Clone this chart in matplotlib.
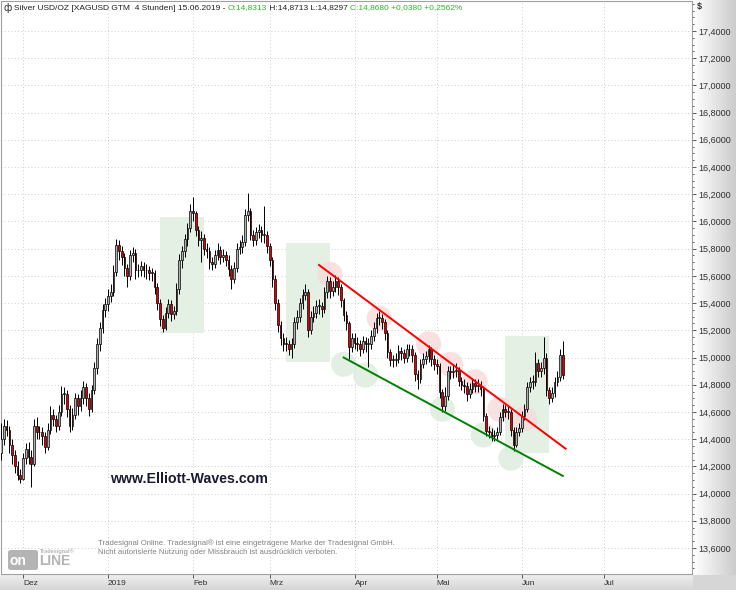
import numpy as np
import pandas as pd
import matplotlib
matplotlib.use('Agg')
import matplotlib.pyplot as plt
import matplotlib.dates as mdates
from matplotlib.patches import Ellipse, Rectangle, FancyBboxPatch

plt.rcParams['font.family'] = ['Liberation Sans', 'DejaVu Sans']

# daily candles (Silver USD/OZ)
start = '2018-11-23'
opens = [
    14.30, 14.40, 14.50, 14.47, 14.36, 14.28, 14.20, 14.14, 14.11, 14.26,
    14.33, 14.27, 14.22, 14.50, 14.45, 14.45, 14.42, 14.34, 14.47, 14.58,
    14.55, 14.50, 14.60, 14.73, 14.73, 14.62, 14.50, 14.58, 14.70, 14.64,
    14.70, 14.78, 14.70, 14.62, 14.76, 14.92, 15.10, 15.22, 15.35, 15.39,
    15.45, 15.48, 15.63, 15.83, 15.78, 15.74, 15.66, 15.60, 15.75, 15.77,
    15.64, 15.64, 15.67, 15.64, 15.64, 15.62, 15.62, 15.52, 15.40, 15.28,
    15.22, 15.33, 15.39, 15.32, 15.34, 15.50, 15.72, 15.78, 15.87, 15.95,
    16.08, 16.06, 15.94, 15.86, 15.88, 15.80, 15.78, 15.70, 15.69, 15.75,
    15.79, 15.74, 15.75, 15.72, 15.65, 15.58, 15.66, 15.80, 15.81, 15.85,
    16.05, 16.08, 15.90, 15.86, 15.92, 15.94, 15.90, 15.90, 15.82, 15.72,
    15.58, 15.40, 15.24, 15.14, 15.10, 15.10, 15.06, 15.10, 15.26, 15.30,
    15.40, 15.46, 15.48, 15.20, 15.30, 15.33, 15.38, 15.38, 15.36, 15.48,
    15.56, 15.49, 15.52, 15.56, 15.52, 15.42, 15.31, 15.25, 15.08, 15.14,
    15.11, 15.10, 15.06, 15.12, 15.10, 15.10, 15.16, 15.22, 15.29, 15.29,
    15.26, 15.18, 15.04, 14.98, 14.98, 14.99, 15.05, 15.03, 15.00, 15.06,
    15.06, 15.02, 14.88, 14.84, 14.95, 14.99, 15.01, 15.06, 14.99, 14.95,
    14.94, 14.75, 14.64, 14.72, 14.90, 14.89, 14.90, 14.91, 14.83, 14.80,
    14.79, 14.73, 14.77, 14.81, 14.79, 14.80, 14.77, 14.57, 14.46, 14.45,
    14.42, 14.43, 14.45, 14.56, 14.62, 14.60, 14.60, 14.47, 14.36, 14.45,
    14.48, 14.57, 14.62, 14.78, 14.82, 14.82, 14.96, 14.90, 14.92, 15.00,
    14.76, 14.70, 14.74, 14.82, 14.86, 15.02]
highs = [
    14.52, 14.55, 14.54, 14.50, 14.40, 14.32, 14.24, 14.18, 14.30, 14.37,
    14.38, 14.32, 14.55, 14.56, 14.50, 14.49, 14.45, 14.52, 14.64, 14.62,
    14.58, 14.65, 14.79, 14.78, 14.76, 14.65, 14.63, 14.74, 14.73, 14.76,
    14.83, 14.81, 14.74, 14.80, 14.97, 15.14, 15.26, 15.39, 15.44, 15.50,
    15.54, 15.68, 15.87, 15.86, 15.82, 15.77, 15.69, 15.79, 15.81, 15.80,
    15.69, 15.71, 15.70, 15.69, 15.67, 15.66, 15.64, 15.55, 15.43, 15.31,
    15.37, 15.43, 15.42, 15.38, 15.55, 15.76, 15.82, 15.91, 15.99, 16.13,
    16.18, 16.08, 15.97, 15.93, 15.91, 15.84, 15.81, 15.74, 15.79, 15.84,
    15.82, 15.80, 15.78, 15.75, 15.68, 15.70, 15.84, 15.86, 15.90, 16.09,
    16.21, 16.10, 15.94, 15.96, 15.98, 15.97, 16.11, 15.93, 15.84, 15.74,
    15.61, 15.43, 15.27, 15.18, 15.15, 15.13, 15.14, 15.30, 15.35, 15.44,
    15.50, 15.54, 15.50, 15.34, 15.38, 15.42, 15.43, 15.41, 15.52, 15.60,
    15.59, 15.56, 15.61, 15.59, 15.54, 15.44, 15.34, 15.27, 15.18, 15.18,
    15.15, 15.13, 15.16, 15.15, 15.14, 15.20, 15.26, 15.33, 15.34, 15.32,
    15.28, 15.20, 15.06, 15.02, 15.03, 15.09, 15.08, 15.06, 15.10, 15.10,
    15.09, 15.04, 14.91, 14.99, 15.03, 15.05, 15.09, 15.08, 15.02, 14.99,
    14.96, 14.77, 14.78, 14.94, 14.94, 14.95, 14.96, 14.93, 14.86, 14.84,
    14.82, 14.81, 14.85, 14.84, 14.84, 14.83, 14.79, 14.59, 14.50, 14.48,
    14.47, 14.49, 14.60, 14.66, 14.65, 14.64, 14.62, 14.49, 14.49, 14.52,
    14.61, 14.66, 14.82, 14.86, 14.87, 15.04, 14.99, 14.97, 15.15, 15.03,
    14.78, 14.78, 14.86, 14.90, 15.06, 15.12]
lows = [
    14.25, 14.36, 14.42, 14.30, 14.22, 14.15, 14.10, 14.08, 14.10, 14.22,
    14.22, 14.05, 14.20, 14.40, 14.40, 14.36, 14.30, 14.32, 14.44, 14.50,
    14.45, 14.47, 14.57, 14.66, 14.56, 14.45, 14.47, 14.55, 14.58, 14.61,
    14.66, 14.64, 14.57, 14.60, 14.73, 14.88, 15.05, 15.18, 15.30, 15.34,
    15.41, 15.45, 15.60, 15.72, 15.68, 15.60, 15.52, 15.57, 15.70, 15.58,
    15.59, 15.60, 15.59, 15.58, 15.57, 15.56, 15.47, 15.35, 15.23, 15.19,
    15.20, 15.29, 15.27, 15.28, 15.31, 15.47, 15.66, 15.74, 15.82, 15.92,
    16.00, 15.89, 15.82, 15.70, 15.75, 15.73, 15.65, 15.64, 15.66, 15.72,
    15.69, 15.70, 15.67, 15.60, 15.50, 15.55, 15.63, 15.76, 15.77, 15.82,
    16.00, 15.86, 15.82, 15.83, 15.88, 15.85, 15.84, 15.77, 15.67, 15.52,
    15.35, 15.19, 15.09, 15.05, 15.05, 15.02, 15.00, 15.07, 15.21, 15.26,
    15.36, 15.42, 15.15, 15.17, 15.26, 15.29, 15.32, 15.30, 15.33, 15.44,
    15.44, 15.45, 15.48, 15.46, 15.37, 15.27, 15.20, 14.99, 15.04, 15.06,
    15.05, 15.01, 15.03, 15.04, 14.93, 15.06, 15.12, 15.18, 15.24, 15.21,
    15.13, 15.00, 14.94, 14.93, 14.94, 14.96, 14.98, 14.96, 14.97, 15.01,
    14.97, 14.83, 14.77, 14.81, 14.92, 14.95, 14.97, 14.94, 14.91, 14.88,
    14.70, 14.60, 14.61, 14.69, 14.84, 14.85, 14.86, 14.79, 14.76, 14.74,
    14.68, 14.70, 14.74, 14.75, 14.75, 14.72, 14.53, 14.42, 14.41, 14.39,
    14.39, 14.40, 14.43, 14.53, 14.56, 14.55, 14.42, 14.31, 14.34, 14.42,
    14.45, 14.54, 14.60, 14.75, 14.77, 14.79, 14.86, 14.86, 14.88, 14.72,
    14.66, 14.67, 14.71, 14.79, 14.83, 14.84]
closes = [
    14.40, 14.50, 14.47, 14.36, 14.28, 14.20, 14.14, 14.11, 14.26, 14.33,
    14.27, 14.22, 14.50, 14.45, 14.45, 14.42, 14.34, 14.47, 14.58, 14.55,
    14.50, 14.60, 14.73, 14.73, 14.62, 14.50, 14.58, 14.70, 14.64, 14.70,
    14.78, 14.70, 14.62, 14.76, 14.92, 15.10, 15.22, 15.35, 15.39, 15.45,
    15.48, 15.63, 15.83, 15.78, 15.74, 15.66, 15.60, 15.75, 15.77, 15.64,
    15.64, 15.67, 15.64, 15.64, 15.62, 15.62, 15.52, 15.40, 15.28, 15.22,
    15.33, 15.39, 15.32, 15.34, 15.50, 15.72, 15.78, 15.87, 15.95, 16.08,
    16.06, 15.94, 15.86, 15.88, 15.80, 15.78, 15.70, 15.69, 15.75, 15.79,
    15.74, 15.75, 15.72, 15.65, 15.58, 15.66, 15.80, 15.81, 15.85, 16.05,
    16.08, 15.90, 15.86, 15.92, 15.94, 15.90, 15.90, 15.82, 15.72, 15.58,
    15.40, 15.24, 15.14, 15.10, 15.10, 15.06, 15.10, 15.26, 15.30, 15.40,
    15.46, 15.48, 15.20, 15.30, 15.33, 15.38, 15.38, 15.36, 15.48, 15.56,
    15.49, 15.52, 15.56, 15.52, 15.42, 15.31, 15.25, 15.08, 15.14, 15.11,
    15.10, 15.06, 15.12, 15.10, 15.10, 15.16, 15.22, 15.29, 15.29, 15.26,
    15.18, 15.04, 14.98, 14.98, 14.99, 15.05, 15.03, 15.00, 15.06, 15.06,
    15.02, 14.88, 14.84, 14.95, 14.99, 15.01, 15.06, 14.99, 14.95, 14.94,
    14.75, 14.64, 14.72, 14.90, 14.89, 14.90, 14.91, 14.83, 14.80, 14.79,
    14.73, 14.77, 14.81, 14.79, 14.80, 14.77, 14.57, 14.46, 14.45, 14.42,
    14.43, 14.45, 14.56, 14.62, 14.60, 14.60, 14.47, 14.36, 14.45, 14.48,
    14.57, 14.62, 14.78, 14.82, 14.82, 14.96, 14.90, 14.92, 15.00, 14.76,
    14.70, 14.74, 14.82, 14.86, 15.02, 14.87]

# drawn annotations: trend channel, zones and touch points
red_line = (['2019-03-19', '2019-06-17'], [15.68, 14.33])
green_line = (['2019-03-28', '2019-06-16'], [15.00, 14.13])
zones = [('2019-01-20', '2019-02-05', 15.18, 16.03),
         ('2019-03-07', '2019-03-23', 14.97, 15.84),
         ('2019-05-26', '2019-06-11', 14.30, 15.16)]
red_touch = [('2019-03-23', 15.61), ('2019-04-10', 15.29), ('2019-04-28', 15.10),
             ('2019-05-06', 14.95), ('2019-05-15', 14.82), ('2019-05-24', 14.62),
             ('2019-06-02', 14.55)]
green_touch = [('2019-03-28', 14.95), ('2019-04-05', 14.87), ('2019-05-03', 14.62),
               ('2019-05-18', 14.43), ('2019-05-28', 14.26)]

months = ['2018-12-01', '2019-01-01', '2019-02-01', '2019-03-01', '2019-04-01',
          '2019-05-01', '2019-06-01', '2019-07-01']
month_labels = ['Dez', '2019', 'Feb', 'Mrz', 'Apr', 'Mai', 'Jun', 'Jul']

W, H = 736, 590
fig = plt.figure(figsize=(W / 100, H / 100), dpi=100)


def fx(px):
    return px / W


def fy(py):
    return 1 - py / H


# background strips (gradients on right axis and bottom axis)
bg = fig.add_axes([0, 0, 1, 1], zorder=-10)
bg.axis('off')
img = np.ones((H, W, 3))
g = np.linspace(1.0, 0.80, W - 693)
img[:, 693:, :] = g[None, :, None]
gb = np.linspace(0.93, 0.84, H - 575)
img[575:, :693, :] = gb[:, None, None]
img[575:, 693:, :] = 0.84
bg.imshow(img, extent=[0, W, H, 0], aspect='auto')
bg.set_xlim(0, W)
bg.set_ylim(H, 0)

ax = fig.add_axes([fx(1), 1 - 574 / H, 691 / W, 573 / H])
ax.set_zorder(1)

x = mdates.date2num(pd.date_range(start, periods=len(closes), freq='D'))
o = np.array(opens)
c = np.array(closes)
up = c >= o
ax.vlines(x, lows, highs, color='black', lw=0.7, zorder=3)
ax.bar(x, np.maximum(np.abs(c - o), 0.006), bottom=np.minimum(o, c), width=0.62,
       color=np.where(up, '#b0b0b0', '#e00000'), edgecolor='black', linewidth=0.5, zorder=4)

d2n = lambda s: mdates.date2num(pd.Timestamp(s))
for a, b, lo, hi in zones:
    ax.add_patch(Rectangle((d2n(a), lo), d2n(b) - d2n(a), hi - lo,
                           facecolor='#e3f0e3', edgecolor='none', zorder=1))
for dt, p in red_touch:
    ax.add_patch(Ellipse((d2n(dt), p), 9.2, 0.185, facecolor='#f8d8d8', alpha=0.75,
                         edgecolor='none', zorder=2))
for dt, p in green_touch:
    ax.add_patch(Ellipse((d2n(dt), p), 9.2, 0.185, facecolor='#deecde', alpha=0.8,
                         edgecolor='none', zorder=2))
ax.plot([d2n(s) for s in red_line[0]], red_line[1], color='#ff0000', lw=1.4, zorder=6)
ax.plot([d2n(s) for s in green_line[0]], green_line[1], color='#008000', lw=1.4, zorder=6)

jan1 = d2n('2019-01-01')
ax.set_xlim(jan1 - 107 / 2.74, jan1 + 584 / 2.74)
ax.set_ylim(13.409, 17.62)

ax.yaxis.tick_right()
ax.set_yticks(np.arange(13.6, 17.41, 0.2))
ax.set_yticks(np.arange(13.45, 17.6, 0.05), minor=True)
ax.set_yticklabels([f'{v:.4f}'.replace('.', ',') for v in np.arange(13.6, 17.41, 0.2)])
ax.tick_params(axis='y', which='major', length=3, width=0.6, color='#404040',
               labelsize=6.5, labelcolor='#303030', pad=1.5)
ax.tick_params(axis='y', which='minor', length=1.5, width=0.6, color='#404040')

ax.set_xticks([d2n(m) for m in months])
ax.set_xticklabels(month_labels, ha='left')
ax.tick_params(axis='x', length=3, width=0.6, color='#404040', labelsize=6,
               labelcolor='#303030', pad=1)

ax.grid(True, which='major', linestyle=(0, (1, 3)), color='#bdbdbd', lw=0.6)
ax.set_axisbelow(True)
for s in ax.spines.values():
    s.set_color('#a0a0a0')
    s.set_linewidth(0.8)

# header
renderer = fig.canvas.get_renderer()
fig.text(fx(4), fy(8), '\u0444', fontsize=7, color='#303030', va='center',
         family='DejaVu Sans')
xpos = 14
for txt, col in [('Silver USD/OZ [XAGUSD GTM  4 Stunden] 15.06.2019 - ', '#202020'),
                 ('O:14,8313', '#2cb52c'),
                 (' H:14,8713 L:14,8297 ', '#202020'),
                 ('C:14,8680 +0,0380 +0,2562%', '#2cb52c')]:
    t = fig.text(fx(xpos), fy(8), txt, fontsize=6.0, color=col, va='center')
    xpos = t.get_window_extent(renderer).x1

fig.text(fx(697), fy(7), '$', fontsize=6.5, color='#303030', va='center', weight='bold')

fig.text(fx(110), fy(479), 'www.Elliott-Waves.com', fontsize=10.2, weight='bold',
         color='#1a1a30', va='center', zorder=10)

fig.text(fx(98), fy(543), 'Tradesignal Online. Tradesignal\u00ae ist eine eingetragene Marke der Tradesignal GmbH.',
         fontsize=5.6, color='#808080', va='center', zorder=10)
fig.text(fx(98), fy(553), 'Nicht autorisierte Nutzung oder Missbrauch ist ausdr\u00fccklich verboten.',
         fontsize=5.6, color='#808080', va='center', zorder=10)

# logo
fig.patches.append(FancyBboxPatch((fx(8), fy(570)), fx(30), 20 / H,
                                  boxstyle='round,pad=0,rounding_size=0.004',
                                  transform=fig.transFigure, facecolor='#b4b4b4',
                                  edgecolor='none', zorder=5))
fig.text(fx(10), fy(561), 'on', fontsize=10, weight='bold', color='white', va='center',
         zorder=11)
fig.text(fx(39), fy(561), 'LINE', fontsize=10, weight='bold', color='#b4b4b4',
         va='center', zorder=11)
fig.text(fx(40), fy(551), 'Tradesignal\u00ae', fontsize=4, weight='bold', color='#b4b4b4',
         va='center', zorder=11)

fig.savefig('out.png', dpi=100)
